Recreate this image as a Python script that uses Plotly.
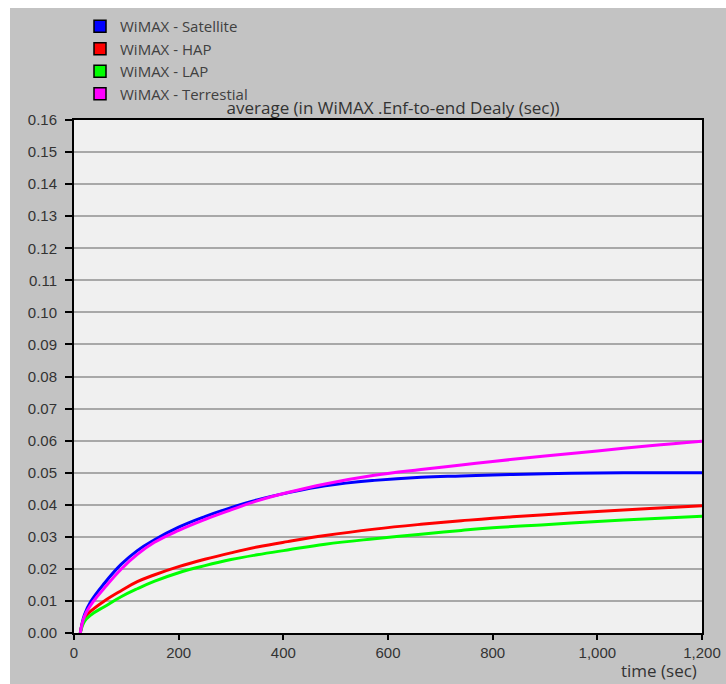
import plotly.graph_objects as go

time_sec = [12, 20, 32, 58, 90, 121, 153, 200, 250, 300, 350, 408, 480, 574, 663, 740, 800, 900, 1000, 1100, 1200]
satellite = [0, 0.0057, 0.0098, 0.0155, 0.0214, 0.0257, 0.0290, 0.0330, 0.0363, 0.0391, 0.0415, 0.0437, 0.0459, 0.0476, 0.0486, 0.0490, 0.0493, 0.0497, 0.0499, 0.0500, 0.0500]
hap = [0, 0.0046, 0.0068, 0.0100, 0.0132, 0.0160, 0.0181, 0.0207, 0.0230, 0.0250, 0.0268, 0.0285, 0.0304, 0.0324, 0.0339, 0.0350, 0.0358, 0.0369, 0.0379, 0.0388, 0.0397]
lap = [0, 0.0036, 0.0056, 0.0082, 0.0113, 0.0138, 0.0161, 0.0188, 0.0210, 0.0229, 0.0244, 0.0259, 0.0277, 0.0294, 0.0308, 0.0320, 0.0328, 0.0338, 0.0348, 0.0356, 0.0364]
terrestial = [0, 0.0052, 0.0087, 0.0140, 0.0199, 0.0245, 0.0282, 0.0320, 0.0354, 0.0384, 0.0412, 0.0438, 0.0465, 0.0492, 0.0510, 0.0524, 0.0535, 0.0552, 0.0568, 0.0584, 0.0598]

series_names = ["WiMAX - Satellite", "WiMAX - HAP", "WiMAX - LAP", "WiMAX - Terrestial"]
series_values = [satellite, hap, lap, terrestial]
series_colors = ["#0000ff", "#ff0000", "#00ff00", "#ff00ff"]

y_ticks = [i / 100 for i in range(0, 17)]
x_ticks = [0, 200, 400, 600, 800, 1000, 1200]

fig = go.Figure()

for name, vals, col in zip(series_names, series_values, series_colors):
    fig.add_trace(go.Scatter(x=time_sec, y=vals, mode="lines",
                             line=dict(color=col, width=3, shape="spline", smoothing=1.2),
                             showlegend=False, hoverinfo="skip"))

for name, col in zip(series_names, series_colors):
    fig.add_trace(go.Scatter(x=[None], y=[None], mode="markers", name=name,
                             marker=dict(symbol="square", size=12, color=col, line=dict(color="black", width=1.5))))

W, H = 726, 684
L, R, T, B = 74, 24, 120, 51
pw, ph = W - L - R, H - T - B

def pxx(px):
    return (px - L) / pw

def pxy(py):
    return (H - B - py) / ph

fig.update_layout(
    width=W, height=H,
    autosize=False,
    margin=dict(l=L, r=R, t=T, b=B, autoexpand=False),
    paper_bgcolor="#c3c3c3",
    plot_bgcolor="#f0f0f0",
    font=dict(family="Liberation Sans, Arial, sans-serif", size=15, color="#333333"),
    showlegend=True,
    legend=dict(xref="container", yref="container", x=80 / W, y=1 - 10 / H, xanchor="left", yanchor="top",
                bgcolor="rgba(0,0,0,0)", font=dict(family="Open Sans, sans-serif", size=15, color="#404040"),
                tracegroupgap=0, itemwidth=30),
    title=dict(text="average (in WiMAX .Enf-to-end Dealy (sec))", x=pxx(393), xref="paper", xanchor="center",
               y=1 - 108 / H, yanchor="middle",
               font=dict(family="Open Sans, sans-serif", size=17, color="#333333")),
    shapes=[
        dict(type="rect", xref="paper", yref="paper",
             x0=pxx(0), x1=pxx(10), y0=pxy(H), y1=pxy(0),
             fillcolor="white", line=dict(width=0), layer="below"),
        dict(type="rect", xref="paper", yref="paper",
             x0=pxx(0), x1=pxx(W), y0=pxy(8), y1=pxy(0),
             fillcolor="white", line=dict(width=0), layer="below"),
    ],
    annotations=[
        dict(text="time (sec)", xref="paper", yref="paper", x=pxx(699), y=pxy(671),
             xanchor="right", yanchor="middle", showarrow=False,
             font=dict(family="Open Sans, sans-serif", size=17, color="#333333")),
    ],
)

fig.update_xaxes(range=[0, 1200], tickvals=x_ticks, tickformat=",d", showgrid=False, zeroline=False,
                 showline=True, linecolor="#000000", linewidth=2, mirror=True, automargin=False,
                 ticks="outside", ticklen=5, tickwidth=2, tickcolor="#000000")
fig.update_yaxes(range=[0, 0.16], tickvals=y_ticks, tickformat=".2f", showgrid=True, gridcolor="#a8a8a8",
                 gridwidth=2, zeroline=False, showline=True, linecolor="#000000", linewidth=2, mirror=True,
                 automargin=False,
                 ticks="outside", ticklen=7, tickwidth=2, tickcolor="#000000", ticklabelstandoff=5)

fig.write_html("out.html", config={"displayModeBar": False, "responsive": False},
               post_script="document.body.style.margin='0';document.body.style.overflow='hidden';")
